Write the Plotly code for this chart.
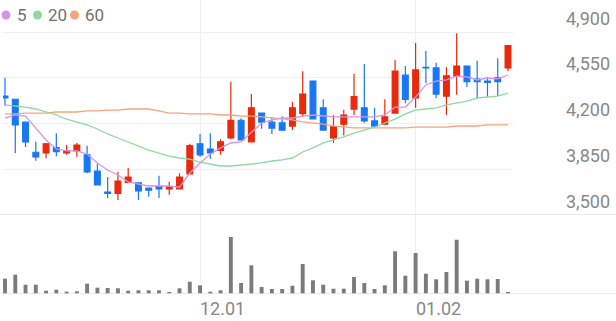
import plotly.graph_objects as go
from plotly.subplots import make_subplots

opens  = [4410,4385,4210,3980,3975,4015,3975,3990,3960,3835,3675,3665,3750,3745,3705,3720,3700,3700,3815,4045,
          4005,3995,4090,4225,4060,4280,4210,4205,4180,4275,4525,4320,4090,4195,4310,4320,4220,4195,4280,4570,
          4395,4630,4625,4410,4565,4640,4540,4525,4550,4625]
highs  = [4550,4390,4215,4060,4050,4125,4035,4050,4030,3890,3790,3830,3860,3745,3710,3800,3755,3820,4045,4120,
          4125,4080,4520,4240,4425,4280,4250,4255,4365,4600,4525,4385,4265,4305,4580,4655,4320,4385,4685,4640,
          4815,4755,4665,4630,4890,4640,4680,4555,4700,4800]
lows   = [4335,3975,4020,3915,3935,3950,3960,3945,3820,3725,3630,3615,3750,3615,3640,3630,3655,3695,3810,3945,
          3930,3960,4080,4075,4060,4160,4120,4150,4150,4250,4235,4150,4050,4110,4265,4205,4165,4195,4275,4355,
          4320,4510,4395,4265,4420,4480,4395,4405,4410,4600]
closes = [4395,4190,4060,3945,4045,3985,3990,4035,3830,3730,3665,3760,3790,3685,3690,3700,3715,3790,4030,3960,
          3975,4060,4225,4075,4320,4210,4165,4150,4320,4425,4235,4150,4175,4265,4405,4220,4180,4250,4600,4385,
          4610,4625,4425,4565,4640,4520,4520,4515,4520,4795]
volumes = [153,193,93,93,33,43,23,27,103,63,60,57,33,37,37,37,20,57,123,87,
           23,37,570,110,287,70,50,50,83,300,137,93,53,53,170,110,50,87,427,183,
           410,203,147,220,543,133,153,147,150,17]
volumes = [v * 1000 for v in volumes]
ma5  = [4242,4265,4257,4166,4074,4005,3990,3990,3967,3898,3844,3806,3753,3737,3722,3722,3722,3714,3821,3898,
        3967,4013,4051,4059,4135,4204,4227,4242,4242,4257,4265,4257,4250,4250,4250,4250,4250,4265,4326,4326,
        4403,4495,4525,4533,4563,4556,4533,4548,4541,4571]
ma20 = [4342,4334,4326,4311,4288,4265,4234,4212,4189,4158,4120,4089,4059,4028,3997,3974,3951,3936,3928,3905,
        3890,3875,3875,3882,3890,3898,3913,3921,3936,3982,4013,4051,4074,4097,4127,4150,4173,4204,4234,4273,
        4303,4311,4319,4342,4357,4372,4395,4403,4410,4433]
ma60 = [4273,4273,4280,4280,4280,4288,4288,4288,4296,4296,4303,4303,4311,4311,4311,4296,4280,4280,4273,4273,
        4273,4265,4265,4257,4257,4250,4242,4234,4227,4212,4204,4196,4181,4173,4166,4166,4166,4166,4166,4166,
        4173,4173,4173,4173,4181,4181,4181,4189,4189,4189]
x = list(range(len(opens)))

price_ticks = [3500, 3850, 4200, 4550, 4900]
price_labels = ["3,500", "3,850", "4,200", "4,550", "4,900"]
date_ticks = [19, 40]
date_labels = ["12.01", "01.02"]
ma_names = ["5", "20", "60"]
ma_colors = ["#d494ec", "#8fd9a0", "#f7a47c"]

RED = "#e8290b"
BLUE = "#1877f2"

fig = make_subplots(rows=2, cols=1, shared_xaxes=True, vertical_spacing=0,
                    row_heights=[215, 79])

for vals, col in zip([ma60, ma20, ma5], ma_colors[::-1]):
    fig.add_trace(go.Scatter(x=x, y=vals, mode="lines", line=dict(color=col, width=1.3),
                             showlegend=False, hoverinfo="skip"), row=1, col=1)

fig.add_trace(go.Candlestick(x=x, open=opens, high=highs, low=lows, close=closes,
                             increasing=dict(line=dict(color=RED, width=1.2), fillcolor=RED),
                             decreasing=dict(line=dict(color=BLUE, width=1.2), fillcolor=BLUE),
                             showlegend=False), row=1, col=1)

fig.add_trace(go.Bar(x=x, y=volumes, marker=dict(color="#7b7b7b", line=dict(width=0)),
                     width=0.38, showlegend=False), row=2, col=1)

W_PLOT = 510
H_PLOT = 294
L = 3
fig.update_layout(
    width=616, height=321,
    margin=dict(l=L, r=616 - L - W_PLOT, t=0, b=321 - H_PLOT),
    paper_bgcolor="white", plot_bgcolor="white",
    boxgap=0.25, boxgroupgap=0.25,
    font=dict(family="Roboto", color="#888888"),
)
xr = [-0.195, 49.487]
fig.update_xaxes(range=xr, showgrid=True, gridcolor="#f0f0f0", gridwidth=1,
                 tickvals=date_ticks, showticklabels=False, zeroline=False,
                 showline=False, rangeslider_visible=False, fixedrange=True)
fig.update_yaxes(range=[3500, 3500 + 215 * 350 / 45.75], tickvals=price_ticks[1:],
                 showgrid=True, gridcolor="#f0f0f0", showticklabels=False, zeroline=False,
                 row=1, col=1)
fig.update_yaxes(range=[0, 790000], showgrid=False, showticklabels=False, zeroline=False,
                 row=2, col=1)

def px(xp):
    return (xp - L) / W_PLOT

def py(yp):
    return (H_PLOT - yp) / H_PLOT

# full-width separator lines
for yref_, yv in [("y", 3500), ("y2", 0)]:
    fig.add_shape(type="line", xref="paper", yref=yref_, x0=px(0), x1=px(616),
                  y0=yv, y1=yv, line=dict(color="#e6e6e6", width=1.5))

for v, t in zip(price_ticks, price_labels):
    fig.add_annotation(xref="paper", yref="y", x=px(612), y=v, text=t,
                       xanchor="right", yanchor="middle", yshift=14, showarrow=False,
                       font=dict(size=18, color="#888888", family="Roboto"))

for v, t in zip(date_ticks, date_labels):
    fig.add_annotation(xref="x2", yref="paper", x=v, y=py(308), text=t,
                       xanchor="left", yanchor="middle", xshift=-2, showarrow=False,
                       font=dict(size=18, color="#888888", family="Roboto"))

# legend
dot_x = [6, 37.5, 74.5]
text_x = [15, 46, 83]
for n, c, dx, tx in zip(ma_names, ma_colors, dot_x, text_x):
    fig.add_shape(type="circle", xref="paper", yref="paper",
                  x0=px(dx - 4.5), x1=px(dx + 4.5), y0=py(19.5), y1=py(10.5),
                  fillcolor=c, line=dict(width=0))
    fig.add_annotation(xref="paper", yref="paper", x=px(tx), y=py(15), text=n,
                       xanchor="left", yanchor="middle", showarrow=False,
                       font=dict(size=17, color="#707070", family="Roboto"))

fig.write_html("out.html")
